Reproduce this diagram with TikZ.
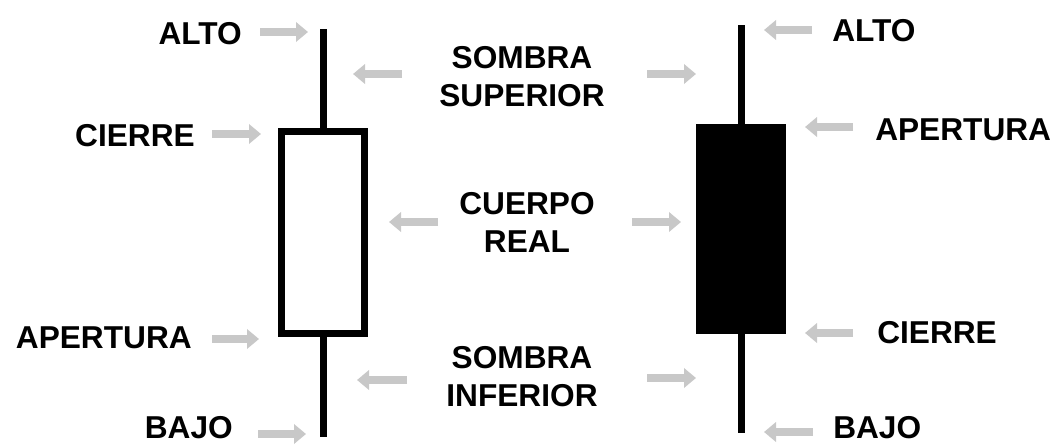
\documentclass[tikz,border=0pt]{standalone}
\usepackage{fontspec}
\setmainfont{Liberation Sans}
\usepackage{xcolor}
\usetikzlibrary{arrows.meta, positioning, calc}

\definecolor{arrowgray}{RGB}{200,200,200}

\begin{document}
\begin{tikzpicture}[
    x=0.025cm, y=-0.025cm,
    lbl/.style={inner sep=0pt, font=\bfseries\fontsize{22.5}{27}\selectfont},
    midlbl/.style={lbl, align=center},
    pointer/.style={draw=arrowgray, line width=0.2cm, -{Triangle[length=0.3cm, width=0.48cm]}},
    wick/.style={line width=0.175cm},
    candle/.style={draw, line width=0.175cm, minimum width=2.075cm, inner sep=0pt}
]
    \useasboundingbox (0,0) rectangle (1056,445);

    % Left candle (white)
    \node[candle, fill=white, minimum height=5.05cm] (bodyL) at (323,232.5) {};
    \coordinate (hiL) at (323,29);
    \coordinate (loL) at (323,437);
    \draw[wick] (bodyL.north) -- (hiL);
    \draw[wick] (bodyL.south) -- (loL);

    % Right candle (black)
    \node[candle, fill=black, minimum height=5.075cm] (bodyR) at (741,229) {};
    \coordinate (hiR) at (741,25);
    \coordinate (loR) at (741,433);
    \draw[wick] (bodyR.north) -- (hiR);
    \draw[wick] (bodyR.south) -- (loR);

    % Left labels
    \node[lbl, anchor=east] (altoL) at (242,34) {ALTO};
    \node[lbl, anchor=east] (cierreL) at (195,136) {CIERRE};
    \node[lbl, anchor=east] (aperturaL) at (192,338) {APERTURA};
    \node[lbl, anchor=east] (bajoL) at (233,428) {BAJO};

    % Right labels
    \node[lbl, anchor=west] (altoR) at (832,31) {ALTO};
    \node[lbl, anchor=west] (aperturaR) at (875,130) {APERTURA};
    \node[lbl, anchor=west] (cierreR) at (877,333) {CIERRE};
    \node[lbl, anchor=west] (bajoR) at (833,428) {BAJO};

    % Middle labels
    \node[midlbl] (ssup) at (522,77) {SOMBRA\\SUPERIOR};
    \node[midlbl] (creal) at (527,222) {CUERPO\\REAL};
    \node[midlbl] (sinf) at (522,377) {SOMBRA\\INFERIOR};

    % Arrow ends
    \coordinate (a1s) at (260,32);  \coordinate (a1e) at (308,32);
    \coordinate (a2s) at (212,134); \coordinate (a2e) at (261,134);
    \coordinate (a3s) at (212,339); \coordinate (a3e) at (259,339);
    \coordinate (a4s) at (258,434); \coordinate (a4e) at (306,434);
    \coordinate (b1s) at (812,30);  \coordinate (b1e) at (764,30);
    \coordinate (b2s) at (853,127); \coordinate (b2e) at (805,127);
    \coordinate (b3s) at (853,333); \coordinate (b3e) at (805,333);
    \coordinate (b4s) at (813,432); \coordinate (b4e) at (764,432);
    \coordinate (m1s) at (402,74);  \coordinate (m1e) at (353,74);
    \coordinate (m2s) at (647,74);  \coordinate (m2e) at (696,74);
    \coordinate (m3s) at (438,222); \coordinate (m3e) at (389,222);
    \coordinate (m4s) at (632,222); \coordinate (m4e) at (681,222);
    \coordinate (m5s) at (407,380); \coordinate (m5e) at (357,380);
    \coordinate (m6s) at (647,378); \coordinate (m6e) at (696,378);

    % Pointers
    \foreach \p in {a1,a2,a3,a4,b1,b2,b3,b4,m1,m2,m3,m4,m5,m6}
        \draw[pointer] (\p s) -- (\p e);

\end{tikzpicture}
\end{document}
